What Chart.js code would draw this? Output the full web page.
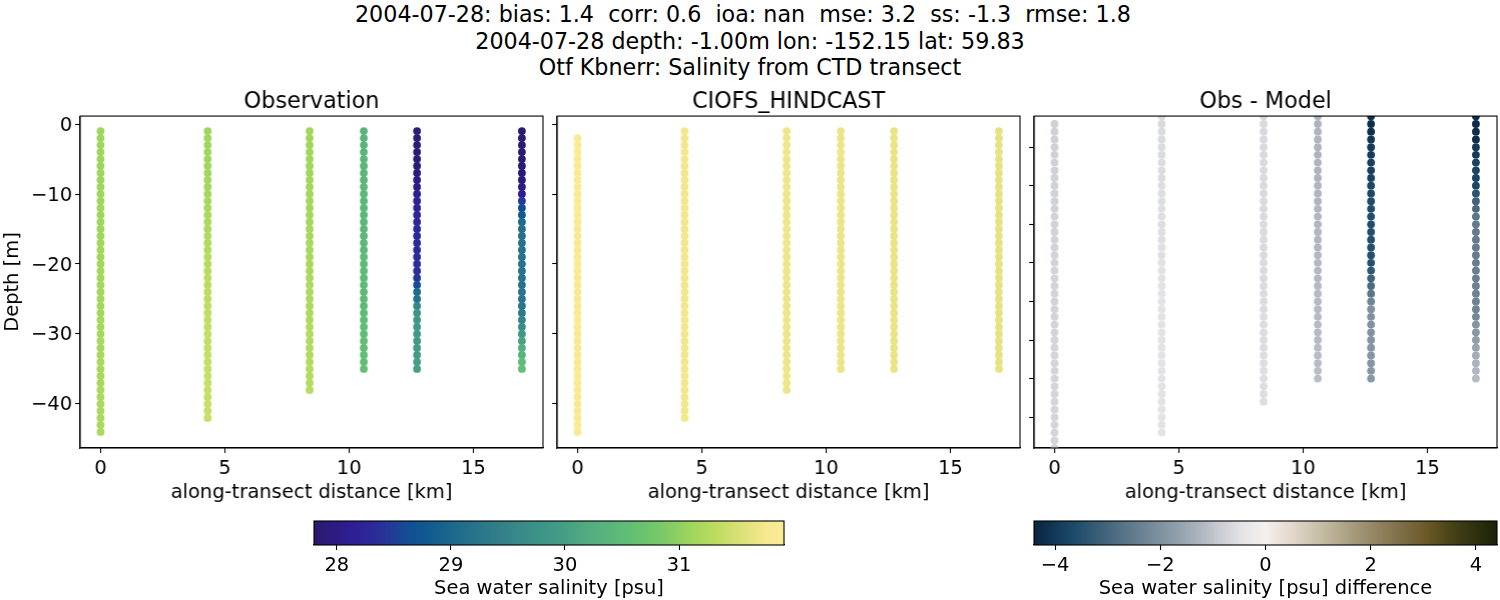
<!DOCTYPE html>
<html><head><meta charset="utf-8">
<script src="https://cdn.jsdelivr.net/npm/chart.js@4"></script>
<style>
html,body{margin:0;padding:0;background:#fff;width:1500px;height:600px;overflow:hidden}
.c{position:absolute}
.t{position:absolute;left:0;width:1500px;text-align:center;white-space:pre;font:22.22px "DejaVu Sans";color:#000;line-height:26px}
</style></head><body>
<div class="t" style="top:1px">2004-07-28: bias: 1.4  corr: 0.6  ioa: nan  mse: 3.2  ss: -1.3  rmse: 1.8  </div>
<div class="t" style="top:28px">2004-07-28 depth: -1.00m lon: -152.15 lat: 59.83</div>
<div class="t" style="top:54px">Otf Kbnerr: Salinity from CTD transect</div>
<script>
const distances=[0,4.31,8.41,10.59,12.73,16.95];
const depths=[-1,-2,-3,-4,-5,-6,-7,-8,-9,-10,-11,-12,-13,-14,-15,-16,-17,-18,-19,-20,-21,-22,-23,-24,-25,-26,-27,-28,-29,-30,-31,-32,-33,-34,-35,-36,-37,-38,-39,-40,-41,-42,-43,-44];
const xTicks=[0,5,10,15];
const yTicksMain=[0,-10,-20,-30,-40];
const yTicksDiff=[-5,-10,-15,-20,-25,-30,-35,-40];
const salinityTicks=[28,29,30,31];
const diffTicks=[-4,-2,0,2,4];

const obs0=[31.1,31.1,31.1,31.1,31.11,31.11,31.11,31.11,31.12,31.12,31.12,31.12,31.13,31.13,31.13,31.13,31.14,31.14,31.14,31.14,31.15,31.15,31.15,31.15,31.16,31.16,31.16,31.17,31.17,31.17,31.18,31.18,31.18,31.19,31.19,31.19,31.19,31.2,31.2,31.2,31.2,31.2,31.2,31.2];
const obs1=[31.12,31.12,31.12,31.13,31.13,31.14,31.14,31.15,31.16,31.17,31.18,31.19,31.2,31.21,31.22,31.24,31.25,31.26,31.28,31.29,31.3,31.31,31.32,31.33,31.34,31.35,31.36,31.37,31.37,31.38,31.38,31.39,31.39,31.39,31.4,31.4,31.4,31.4,31.4,31.4,31.4,31.4];
const obs2=[31.12,31.12,31.12,31.13,31.13,31.13,31.13,31.14,31.14,31.14,31.15,31.15,31.16,31.16,31.17,31.17,31.18,31.18,31.19,31.19,31.2,31.2,31.21,31.21,31.22,31.22,31.23,31.23,31.24,31.24,31.25,31.25,31.26,31.26,31.27,31.27,31.28,31.28];
const obs3=[30.38,30.38,30.39,30.39,30.4,30.4,30.41,30.41,30.42,30.42,30.43,30.43,30.44,30.44,30.45,30.45,30.46,30.46,30.47,30.47,30.48,30.48,30.49,30.49,30.5,30.5,30.51,30.52,30.53,30.54,30.55,30.55,30.56,30.57,30.58];
const obs4=[27.87,27.87,27.87,27.87,27.87,27.88,27.95,27.98,28.03,28.1,28.18,28.22,28.26,28.28,28.3,28.32,28.33,28.34,28.35,28.36,28.37,28.4,28.62,29.04,29.16,29.53,29.8,29.86,29.88,29.9,29.92,29.94,29.96,29.98,30.0];
const obs5=[27.86,27.86,27.86,27.87,27.87,27.88,27.9,27.93,28.0,28.1,28.46,28.62,28.79,29.04,29.15,29.18,29.2,29.2,29.2,29.2,29.2,29.2,29.21,29.22,29.24,29.26,29.32,29.53,29.65,29.86,30.07,30.27,30.35,30.52,30.6];

const model0=[31.86,31.86,31.86,31.86,31.86,31.86,31.86,31.86,31.86,31.86,31.86,31.86,31.85,31.85,31.85,31.85,31.85,31.85,31.85,31.85,31.85,31.85,31.85,31.85,31.84,31.84,31.84,31.84,31.84,31.84,31.84,31.84,31.84,31.84,31.84,31.84,31.83,31.83,31.83,31.83,31.83,31.83,31.83];
const model1=[31.74,31.74,31.74,31.74,31.74,31.74,31.74,31.74,31.74,31.74,31.74,31.74,31.74,31.74,31.74,31.74,31.74,31.74,31.74,31.74,31.74,31.74,31.73,31.73,31.73,31.73,31.73,31.73,31.73,31.73,31.73,31.73,31.73,31.73,31.73,31.73,31.73,31.73,31.73,31.73,31.73,31.73];
const model2=[31.7,31.7,31.7,31.7,31.7,31.7,31.7,31.7,31.7,31.7,31.7,31.7,31.7,31.7,31.7,31.7,31.7,31.7,31.7,31.7,31.7,31.7,31.69,31.69,31.69,31.69,31.69,31.69,31.69,31.69,31.69,31.69,31.69,31.69,31.69,31.69,31.69,31.69];
const model3=[31.67,31.67,31.67,31.67,31.67,31.67,31.67,31.67,31.67,31.67,31.67,31.67,31.67,31.67,31.67,31.67,31.67,31.67,31.67,31.67,31.67,31.67,31.67,31.67,31.67,31.67,31.67,31.67,31.67,31.67,31.67,31.67,31.67,31.67,31.67];
const model4=[31.65,31.65,31.65,31.65,31.65,31.65,31.65,31.65,31.65,31.65,31.65,31.65,31.65,31.65,31.65,31.65,31.65,31.65,31.65,31.65,31.65,31.65,31.65,31.65,31.65,31.65,31.65,31.65,31.65,31.65,31.65,31.65,31.65,31.65,31.65];
const model5=[31.63,31.63,31.63,31.63,31.63,31.63,31.63,31.63,31.63,31.63,31.63,31.63,31.63,31.63,31.63,31.63,31.63,31.63,31.63,31.63,31.63,31.63,31.63,31.63,31.63,31.63,31.63,31.63,31.63,31.63,31.63,31.63,31.63,31.63,31.63];

const diff0=[-0.77,-0.77,-0.77,-0.77,-0.77,-0.77,-0.76,-0.76,-0.76,-0.76,-0.76,-0.75,-0.75,-0.75,-0.74,-0.74,-0.74,-0.74,-0.74,-0.73,-0.73,-0.73,-0.73,-0.73,-0.72,-0.72,-0.72,-0.71,-0.71,-0.71,-0.71,-0.71,-0.71,-0.7,-0.7,-0.7,-0.7,-0.7,-0.7,-0.7,-0.7,-0.69,-0.69];
const diff1=[-0.62,-0.62,-0.61,-0.61,-0.6,-0.6,-0.59,-0.58,-0.58,-0.57,-0.57,-0.56,-0.56,-0.55,-0.55,-0.54,-0.53,-0.52,-0.51,-0.5,-0.49,-0.48,-0.47,-0.47,-0.46,-0.46,-0.46,-0.45,-0.45,-0.45,-0.45,-0.45,-0.45,-0.45,-0.45,-0.45,-0.45,-0.45,-0.45,-0.45,-0.45,-0.45];
const diff2=[-0.64,-0.64,-0.64,-0.63,-0.63,-0.63,-0.63,-0.63,-0.62,-0.62,-0.62,-0.62,-0.62,-0.61,-0.61,-0.61,-0.61,-0.61,-0.6,-0.6,-0.6,-0.6,-0.58,-0.58,-0.58,-0.58,-0.57,-0.57,-0.57,-0.57,-0.57,-0.56,-0.56,-0.56,-0.56,-0.56,-0.55,-0.55];
const diff3=[-1.27,-1.26,-1.26,-1.25,-1.25,-1.25,-1.24,-1.24,-1.24,-1.23,-1.23,-1.23,-1.22,-1.22,-1.22,-1.21,-1.21,-1.21,-1.19,-1.19,-1.18,-1.18,-1.17,-1.17,-1.16,-1.16,-1.15,-1.15,-1.14,-1.14,-1.13,-1.12,-1.11,-1.1,-1.09];
const diff4=[-4.2,-4.2,-4.18,-4.05,-3.95,-3.92,-3.88,-3.82,-3.78,-3.7,-3.66,-3.62,-3.6,-3.58,-3.58,-3.56,-3.56,-3.54,-3.54,-3.52,-3.35,-3.1,-2.9,-2.65,-2.3,-2.02,-2.0,-1.98,-1.96,-1.94,-1.92,-1.9,-1.88,-1.86,-1.85];
const diff5=[-4.25,-4.25,-4.22,-4.2,-3.98,-3.95,-3.78,-3.76,-3.74,-3.72,-3.4,-3.08,-2.9,-2.64,-2.52,-2.5,-2.5,-2.48,-2.48,-2.46,-2.44,-2.42,-2.36,-2.34,-2.34,-2.3,-2.22,-1.95,-1.85,-1.7,-1.55,-1.4,-1.3,-1.2,-1.15];

const obsColumns=[obs0,obs1,obs2,obs3,obs4,obs5];
const modelColumns=[model0,model1,model2,model3,model4,model5];
const diffColumns=[diff0,diff1,diff2,diff3,diff4,diff5];
const columnStartIndex=[[0,0,0,0,0,0],[1,0,0,0,0,0],[1,0,0,0,0,0]];

const haline=[[0,42,26,108],[.085,47,30,149],[.142,43,47,154],[.198,19,77,148],[.241,15,90,144],[.305,31,107,139],[.397,51,128,138],[.454,59,142,136],[.523,66,156,133],[.594,85,174,128],[.664,95,189,118],[.735,119,200,104],[.806,160,214,92],[.855,188,220,96],[.912,220,226,122],[.961,245,232,143],[1,251,235,150]];
const diffMap=[[0,10,36,64],[.05,20,58,90],[.093,31,77,108],[.165,72,104,127],[.237,109,132,148],[.309,144,159,170],[.36,174,182,191],[.4,200,203,210],[.445,226,226,229],[.5,245,240,238],[.557,226,216,204],[.622,197,188,165],[.68,169,159,130],[.75,143,127,92],[.816,117,101,60],[.85,106,88,38],[.9,72,67,24],[.96,44,47,14],[1,28,32,6]];
function mapColor(map,t){t=Math.max(0,Math.min(1,t));
 for(let i=1;i<map.length;i++){if(t<=map[i][0]){const a=map[i-1],b=map[i],f=(t-a[0])/(b[0]-a[0]);
  return `rgb(${[1,2,3].map(k=>Math.round(a[k]+(b[k]-a[k])*f)).join(',')})`;}}
 const e=map[map.length-1];return `rgb(${e[1]},${e[2]},${e[3]})`;}

const FONT='"DejaVu Sans"';
const tickPx=19.44, titlePx=22.22;
Chart.defaults.font.family=FONT;
Chart.defaults.color='#000';
Chart.defaults.animation=false;
Chart.defaults.responsive=false;
Chart.defaults.plugins.legend.display=false;
Chart.defaults.plugins.tooltip.enabled=false;

const boxPlugin={id:'box',afterDatasetsDraw(c){const a=c.chartArea,x=c.ctx;x.save();x.strokeStyle='#000';x.lineWidth=1.1;x.strokeRect(a.left,a.top,a.right-a.left,a.bottom-a.top);x.restore();}};
const gradPlugin={id:'grad',beforeDatasetsDraw(c,_,o){if(!o.map)return;const a=c.chartArea,x=c.ctx,g=x.createLinearGradient(a.left,0,a.right,0);
 o.map.forEach(s=>g.addColorStop(s[0],`rgb(${s[1]},${s[2]},${s[3]})`));x.save();x.fillStyle=g;x.fillRect(a.left,a.top,a.right-a.left,a.bottom-a.top);x.restore();}};
Chart.register(boxPlugin,gradPlugin);

function place(box,pad){const d=document.createElement('canvas');d.className='c';
 const L=box.l-pad.l,T=box.t-pad.t,W=box.w+pad.l+pad.r,H=box.h+pad.t+pad.b;
 d.width=W;d.height=H;d.style.cssText=`left:${L}px;top:${T}px;width:${W}px;height:${H}px`;document.body.appendChild(d);return d;}
const fmt=v=>String(v).replace('-','\u2212');

function panel(box,title,columns,map,vmin,vmax,yMin,yMax,yTicks,showY,startIdx,yLabel){
 const pad={l:80,t:40,r:6,b:57};
 const cv=place(box,pad);
 const datasets=columns.map((vals,i)=>({
  data:vals.map((v,j)=>({x:distances[i],y:depths[j+startIdx[i]]})),
  backgroundColor:vals.map(v=>mapColor(map,(v-vmin)/(vmax-vmin))),
  pointRadius:3.9,pointBorderWidth:0,showLine:false,clip:0}));
 new Chart(cv,{type:'scatter',data:{datasets},options:{
  devicePixelRatio:1,
  layout:{padding:{left:1,top:13.4,right:pad.r,bottom:0}},
  plugins:{title:{display:true,fullSize:false,text:title,font:{size:titlePx,weight:'normal',family:FONT},color:'#000',padding:{top:0,bottom:0},position:'top',align:'center'}},
  scales:{
   x:{type:'linear',min:-0.82,max:17.8,afterBuildTicks:s=>{s.ticks=xTicks.map(v=>({value:v}))},
    grid:{drawOnChartArea:false,drawTicks:true,tickLength:5,tickColor:'#000',tickWidth:1.1},border:{color:'#000',width:1.1},
    ticks:{font:{size:tickPx},color:'#000',padding:4,maxRotation:0,callback:fmt},
    title:{display:true,text:'along-transect distance [km]',font:{size:tickPx},color:'#000',padding:{top:0,bottom:0}},
    afterFit:s=>{s.height=pad.b}},
   y:{type:'linear',min:yMin,max:yMax,afterBuildTicks:s=>{s.ticks=yTicks.map(v=>({value:v}))},
    grid:{drawOnChartArea:false,drawTicks:true,tickLength:5,tickColor:'#000',tickWidth:1.1},border:{color:'#000',width:1.1},
    ticks:{display:showY,font:{size:tickPx},color:'#000',padding:3,labelOffset:1.5,callback:fmt},
    title:{display:!!yLabel,text:yLabel||'',font:{size:tickPx},color:'#000',padding:0},
    afterFit:s=>{s.width=79}}
  }}});
}

function colorbar(box,label,map,vmin,vmax,ticks){
 const pad={l:30,t:4,r:20,b:56};
 const cv=place(box,pad);
 new Chart(cv,{type:'scatter',data:{datasets:[{data:[]}]},options:{
  devicePixelRatio:1,
  layout:{padding:{left:pad.l-1,top:pad.t,right:pad.r,bottom:0}},
  plugins:{grad:{map}},
  scales:{
   x:{type:'linear',min:vmin,max:vmax,afterBuildTicks:s=>{s.ticks=ticks.map(v=>({value:v}))},
    grid:{drawOnChartArea:false,drawTicks:true,tickLength:5,tickColor:'#000',tickWidth:1.1},border:{color:'#000',width:1.1},
    ticks:{font:{size:tickPx},color:'#000',padding:4,maxRotation:0,autoSkip:false,callback:fmt},
    title:{display:true,text:label,font:{size:tickPx},color:'#000',padding:{top:0,bottom:0}},
    afterFit:s=>{s.height=pad.b}},
   y:{display:false,min:0,max:1,afterFit:s=>{s.width=1}}
  }}});
}

const TOP=115.5,H=332.2,W=462.5;
panel({l:80,t:TOP,w:W,h:H},'Observation',obsColumns,haline,27.8,31.92,-46.3,1.14,yTicksMain,true,columnStartIndex[0],'Depth [m]');
panel({l:557,t:TOP,w:W,h:H},'CIOFS_HINDCAST',modelColumns,haline,27.8,31.92,-46.3,1.14,yTicksMain,false,columnStartIndex[1]);
panel({l:1034,t:TOP,w:W,h:H},'Obs - Model',diffColumns,diffMap,-4.4,4.4,-44,-0.97,yTicksDiff,false,columnStartIndex[2]);
colorbar({l:314,t:521,w:470,h:24},'Sea water salinity [psu]',haline,27.8,31.92,salinityTicks);
colorbar({l:1034,t:521,w:463,h:24},'Sea water salinity [psu] difference',diffMap,-4.4,4.4,diffTicks);
</script>
</body></html>
